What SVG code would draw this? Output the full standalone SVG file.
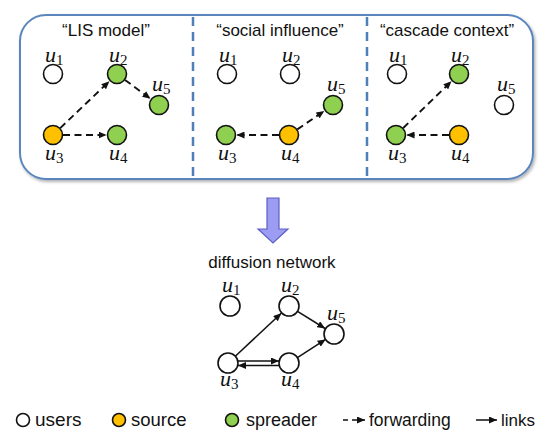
<svg xmlns="http://www.w3.org/2000/svg" width="554" height="435" viewBox="0 0 554 435">
<defs>
<style>
.t{font-family:"Liberation Sans",Arial,sans-serif;font-size:17px;fill:#111}
.lg{font-family:"Liberation Sans",Arial,sans-serif;fill:#111}
.m{font-family:"Liberation Serif","Times New Roman",serif;font-style:italic;font-size:22px;fill:#111}
.m tspan{font-style:normal;font-size:15px}
.n{stroke:#111;stroke-width:1.6}
.w{fill:#fff}
.o{fill:#ffc000}
.g{fill:#8fd050}
.d{stroke:#111;stroke-width:1.9;stroke-dasharray:7,4.5;fill:none;marker-end:url(#ah)}
.s{stroke:#111;stroke-width:1.5;fill:none;marker-end:url(#ah)}
.div{stroke:#4f7fb8;stroke-width:2.5;stroke-dasharray:9,6}
</style>
<marker id="ah" markerUnits="userSpaceOnUse" markerWidth="8" markerHeight="7" refX="8" refY="3.5" orient="auto">
<path d="M0,0 L8,3.5 L0,7 z" fill="#111"/>
</marker>
<filter id="sh" x="-5%" y="-5%" width="110%" height="115%">
<feDropShadow dx="1.5" dy="2" stdDeviation="1.5" flood-color="#000" flood-opacity="0.3"/>
</filter>
</defs>
<rect id="frame" x="20" y="15" width="513" height="164" rx="26" ry="26" fill="#fff" stroke="#5a86bd" stroke-width="2" filter="url(#sh)"/>
<line class="div" x1="193" y1="17" x2="193" y2="178"/>
<line class="div" x1="367" y1="17" x2="367" y2="178"/>
<text class="t" x="106" y="36" text-anchor="middle">“LIS model”</text>
<text class="t" x="280" y="36" text-anchor="middle">“social influence”</text>
<text class="t" x="447" y="36" text-anchor="middle">“cascade context”</text>
<g id="connectors">
<line class="d" x1="60.2" y1="128.1" x2="109.4" y2="81.2"/>
<line class="d" x1="125" y1="79.9" x2="150.5" y2="98.8"/>
<line class="d" x1="63" y1="135" x2="106.5" y2="135"/>
<line class="d" x1="279" y1="135" x2="236.5" y2="135"/>
<line class="d" x1="297.3" y1="129.4" x2="324.3" y2="110.9"/>
<line class="d" x1="403.2" y1="128" x2="451.5" y2="81.3"/>
<line class="d" x1="449" y1="135" x2="406.5" y2="135"/>
<line class="s" x1="235.3" y1="356.2" x2="281.3" y2="313.2"/>
<line class="s" x1="297.5" y1="311.3" x2="325.1" y2="328.5"/>
<line class="s" x1="297.4" y1="357.6" x2="325.6" y2="339.4"/>
<line class="s" x1="238" y1="361" x2="279" y2="361"/>
<line class="s" x1="279" y1="365.5" x2="238" y2="365.5"/>
</g>
<g id="p1-u1"><circle class="n w" cx="53" cy="74" r="9.5"/><text class="m" x="45" y="62">u<tspan dy="3">1</tspan></text></g>
<g id="p1-u2"><circle class="n g" cx="117" cy="74" r="9.5"/><text class="m" x="109" y="62">u<tspan dy="3">2</tspan></text></g>
<g id="p1-u5"><circle class="n g" cx="159" cy="105" r="9.5"/><text class="m" x="152" y="91">u<tspan dy="3">5</tspan></text></g>
<g id="p1-u3"><circle class="n o" cx="53" cy="135" r="9.5"/><text class="m" x="45" y="160">u<tspan dy="3">3</tspan></text></g>
<g id="p1-u4"><circle class="n g" cx="117" cy="135" r="9.5"/><text class="m" x="109" y="160">u<tspan dy="3">4</tspan></text></g>
<g id="p2-u1"><circle class="n w" cx="227" cy="74" r="9.5"/><text class="m" x="219" y="62">u<tspan dy="3">1</tspan></text></g>
<g id="p2-u2"><circle class="n w" cx="290" cy="74" r="9.5"/><text class="m" x="282" y="62">u<tspan dy="3">2</tspan></text></g>
<g id="p2-u5"><circle class="n g" cx="333" cy="105" r="9.5"/><text class="m" x="327" y="91">u<tspan dy="3">5</tspan></text></g>
<g id="p2-u3"><circle class="n g" cx="226" cy="135" r="9.5"/><text class="m" x="218" y="160">u<tspan dy="3">3</tspan></text></g>
<g id="p2-u4"><circle class="n o" cx="289" cy="135" r="9.5"/><text class="m" x="281" y="160">u<tspan dy="3">4</tspan></text></g>
<g id="p3-u1"><circle class="n w" cx="397" cy="74" r="9.5"/><text class="m" x="389" y="62">u<tspan dy="3">1</tspan></text></g>
<g id="p3-u2"><circle class="n g" cx="459" cy="74" r="9.5"/><text class="m" x="451" y="62">u<tspan dy="3">2</tspan></text></g>
<g id="p3-u5"><circle class="n w" cx="504" cy="105" r="9.5"/><text class="m" x="497" y="91">u<tspan dy="3">5</tspan></text></g>
<g id="p3-u3"><circle class="n g" cx="396" cy="135" r="9.5"/><text class="m" x="388" y="160">u<tspan dy="3">3</tspan></text></g>
<g id="p3-u4"><circle class="n o" cx="459" cy="135" r="9.5"/><text class="m" x="451" y="160">u<tspan dy="3">4</tspan></text></g>
<polygon id="down-arrow" points="267,198 279,198 279,229 288,229 273,243 258,229 267,229" fill="#9b9cf2" stroke="#5d5fc4" stroke-width="1.2"/>
<text class="t" x="272" y="268" text-anchor="middle">diffusion network</text>
<g id="d-u1"><circle class="n w" cx="230" cy="306" r="10"/><text class="m" x="222" y="292">u<tspan dy="3">1</tspan></text></g>
<g id="d-u2"><circle class="n w" cx="289" cy="306" r="10"/><text class="m" x="281" y="292">u<tspan dy="3">2</tspan></text></g>
<g id="d-u5"><circle class="n w" cx="334" cy="334" r="10"/><text class="m" x="327" y="320">u<tspan dy="3">5</tspan></text></g>
<g id="d-u3"><circle class="n w" cx="228" cy="363" r="10"/><text class="m" x="220" y="386">u<tspan dy="3">3</tspan></text></g>
<g id="d-u4"><circle class="n w" cx="289" cy="363" r="10"/><text class="m" x="281" y="386">u<tspan dy="3">4</tspan></text></g>
<g id="legend">
<circle class="n w" cx="23" cy="420" r="6.5"/><text class="lg" x="35" y="426" font-size="19">users</text>
<circle class="n o" cx="119" cy="420" r="6.5"/><text class="lg" x="131" y="426" font-size="18.5">source</text>
<circle class="n g" cx="232" cy="420" r="6.5"/><text class="lg" x="246" y="426" font-size="18">spreader</text>
<line x1="343" y1="420" x2="365" y2="420" stroke="#111" stroke-width="1.5" stroke-dasharray="5,4" marker-end="url(#ah)"/>
<text class="lg" x="369" y="426" font-size="17.5">forwarding</text>
<line x1="476" y1="420" x2="497" y2="420" stroke="#111" stroke-width="1.5" marker-end="url(#ah)"/>
<text class="lg" x="501" y="426" font-size="17">links</text>
</g>
</svg>
